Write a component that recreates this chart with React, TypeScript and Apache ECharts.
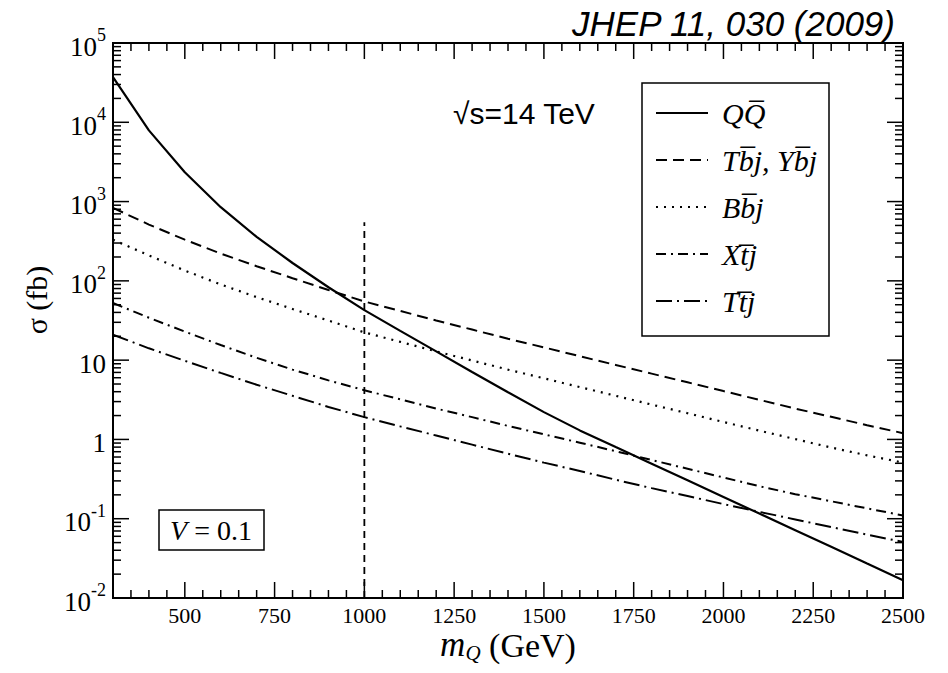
import React, { useEffect, useRef } from 'react';
import * as echarts from 'echarts';

// Heavy-quark mass points (GeV)
const masses = [300, 400, 500, 600, 700, 800, 900, 1000, 1100, 1200, 1300, 1400, 1500, 1600, 1700, 1800, 1900, 2000, 2100, 2200, 2300, 2400, 2500];

// Cross sections (fb)
const sigmaQQ = [37000, 7900, 2340, 850, 359, 168, 83, 42.7, 23.4, 12.9, 7.1, 3.94, 2.21, 1.3, 0.8, 0.495, 0.305, 0.188, 0.116, 0.0716, 0.0442, 0.0272, 0.0168];
const sigmaTbj = [832, 513, 331, 221, 153, 108, 76.7, 55, 41.7, 31.6, 24.3, 18.6, 14.5, 11.2, 8.7, 6.76, 5.25, 4.07, 3.16, 2.45, 1.93, 1.51, 1.2];
const sigmaBbj = [331, 209, 135, 90, 62.4, 44.2, 31.6, 22.4, 17.0, 12.9, 9.9, 7.6, 5.9, 4.57, 3.55, 2.75, 2.14, 1.66, 1.29, 1.01, 0.79, 0.63, 0.51];
const sigmaXtj = [52.5, 34.3, 22.9, 15.5, 10.7, 7.6, 5.56, 4.17, 3.2, 2.45, 1.91, 1.48, 1.16, 0.91, 0.71, 0.55, 0.427, 0.331, 0.257, 0.204, 0.166, 0.135, 0.11];
const sigmaTtj = [20.9, 14.1, 9.8, 6.9, 4.9, 3.55, 2.57, 1.91, 1.46, 1.12, 0.86, 0.66, 0.51, 0.4, 0.31, 0.243, 0.193, 0.153, 0.122, 0.098, 0.0785, 0.063, 0.051];

// Vertical marker at m = 1000 GeV
const cutMass = [1000, 1000];
const cutSigma = [0.01, 550];

const seriesNames = ['QQ\u0305', 'Tb\u0305j, Yb\u0305j', 'Bb\u0305j', 'Xt\u0305j', 'Tt\u0305j'];

// Axis ranges and tick values
const xMin = 300;
const xMax = 2500;
const yMin = 0.01;
const yMax = 100000;
const xMajorTicks = [500, 750, 1000, 1250, 1500, 1750, 2000, 2250, 2500];
const yMajorTicks = [0.01, 0.1, 1, 10, 100, 1000, 10000, 100000];
const yTickLabels = ['10|-2', '10|-1', '1|', '10|', '10|2', '10|3', '10|4', '10|5'];

const xMinorTicks: number[] = [];
for (let m = 350; m < 2500; m += 50) if (m % 250 !== 0) xMinorTicks.push(m);
const yMinorTicks: number[] = [];
for (let e = -2; e <= 4; e++) for (let k = 2; k <= 9; k++) yMinorTicks.push(+(k * Math.pow(10, e)).toPrecision(3));

const SERIF = 'Liberation Serif';
const SANS = 'Liberation Sans';

function pairs(xs: number[], ys: number[]) {
  return xs.map((x, i) => [x, ys[i]]);
}

export default function App() {
  const ref = useRef<HTMLDivElement>(null);
  useEffect(() => {
    if (!ref.current) return;
    const chart = echarts.init(ref.current, null, { renderer: 'svg' });
    const mk = (name: string, data: number[], type: any, width = 2) => ({
      name,
      type: 'line',
      data: pairs(masses, data),
      showSymbol: false,
      symbol: 'none',
      smooth: false,
      lineStyle: { color: '#000', width, type },
      itemStyle: { color: '#000' },
      z: 3,
    });
    chart.setOption({
      animation: false,
      backgroundColor: '#fff',
      grid: { left: 113, right: 45, top: 43, bottom: 75, containLabel: false },
      xAxis: {
        type: 'value', min: xMin, max: xMax, splitLine: { show: false },
        axisLine: { show: false, onZero: false },
        axisTick: { show: false },
        axisLabel: { customValues: xMajorTicks, formatter: (v: number) => String(v), fontSize: 22, fontFamily: SERIF, color: '#000', margin: 6 },
      },
      yAxis: {
        type: 'log', logBase: 10, min: yMin, max: yMax, splitLine: { show: false },
        axisLine: { show: false, onZero: false },
        axisTick: { show: false },
        axisLabel: { show: false },
      },
      legend: {
        data: seriesNames,
        orient: 'vertical',
        left: 655,
        top: 98,
        padding: 0,
        itemWidth: 52,
        itemHeight: 14,
        itemGap: 17,
        selectedMode: false,
        itemStyle: { color: 'rgba(0,0,0,0)', borderWidth: 0, opacity: 0 },
        textStyle: { fontFamily: SERIF, fontStyle: 'italic', fontSize: 30, color: '#000', padding: [0, 0, 0, 9] },
      },
      series: [
        mk(seriesNames[0], sigmaQQ, 'solid', 2.2),
        mk(seriesNames[1], sigmaTbj, [11, 6]),
        mk(seriesNames[2], sigmaBbj, [2, 6], 2.2),
        mk(seriesNames[3], sigmaXtj, [10, 5, 2, 5]),
        mk(seriesNames[4], sigmaTtj, [16, 5, 2, 5]),
        {
          name: 'cut',
          type: 'line',
          data: pairs(cutMass, cutSigma),
          symbol: 'none',
          lineStyle: { color: '#000', width: 1.8, type: [7, 5] },
          z: 2,
        },
      ],
    });

    // Frame, ticks and y labels placed through the chart's own coordinate system
    const toPx = (x: number, y: number) => chart.convertToPixel({ xAxisIndex: 0, yAxisIndex: 0 }, [x, y]) as number[];
    const g: any[] = [];
    const tl = toPx(xMin, yMax);
    const br = toPx(xMax, yMin);
    g.push({ type: 'rect', shape: { x: tl[0], y: tl[1], width: br[0] - tl[0], height: br[1] - tl[1] }, style: { fill: 'none', stroke: '#000', lineWidth: 2 } });
    const seg = (x1: number, y1: number, x2: number, y2: number) => ({
      type: 'line',
      shape: { x1, y1, x2, y2 },
      style: { stroke: '#000', lineWidth: 1.5 },
    });
    const addX = (v: number, len: number) => {
      const b = toPx(v, yMin);
      const t = toPx(v, yMax);
      g.push(seg(b[0], b[1], b[0], b[1] - len));
      g.push(seg(t[0], t[1], t[0], t[1] + len));
    };
    const addY = (v: number, len: number) => {
      const l = toPx(xMin, v);
      const r = toPx(xMax, v);
      g.push(seg(l[0], l[1], l[0] + len, l[1]));
      g.push(seg(r[0], r[1], r[0] - len, r[1]));
    };
    xMajorTicks.forEach((v) => addX(v, 16));
    xMinorTicks.forEach((v) => addX(v, 8));
    yMajorTicks.forEach((v) => addY(v, 16));
    yMinorTicks.forEach((v) => addY(v, 8));
    yMajorTicks.forEach((v, i) => {
      const p = toPx(xMin, v);
      const [base, exp] = yTickLabels[i].split('|');
      g.push({
        type: 'text', x: p[0] - 7, y: p[1],
        style: {
          text: exp ? `{b|${base}}{s|${exp}}` : `{b|${base}}`,
          align: 'right', verticalAlign: 'middle', fill: '#000', fontFamily: SERIF, fontSize: 27,
          rich: {
            b: { fontSize: 27, fontFamily: SERIF, fill: '#000', lineHeight: 34, verticalAlign: 'bottom' },
            s: { fontSize: 18, fontFamily: SERIF, fill: '#000', lineHeight: 13, verticalAlign: 'top' },
          },
        },
      });
    });

    const statics: any[] = [
      { type: 'rect', shape: { x: 642, y: 83, width: 187, height: 253 }, style: { fill: 'none', stroke: '#000', lineWidth: 1.5 } },
      { type: 'rect', shape: { x: 159, y: 510, width: 105, height: 40 }, style: { fill: 'none', stroke: '#000', lineWidth: 1.5 } },
      {
        type: 'text', x: 211, y: 530,
        style: {
          text: '{i|V} = 0.1', align: 'center', verticalAlign: 'middle', fontSize: 28, fontFamily: SERIF, fill: '#000',
          rich: { i: { fontStyle: 'italic', fontSize: 28, fontFamily: SERIF } },
        },
      },
      {
        type: 'text', x: 453, y: 113,
        style: { text: '\u221As=14 TeV', align: 'left', verticalAlign: 'middle', fontSize: 30, fontFamily: SANS, fill: '#000' },
      },
      {
        type: 'text', x: 895, y: 23,
        style: { text: 'JHEP 11, 030 (2009)', align: 'right', verticalAlign: 'middle', fontSize: 35, fontStyle: 'italic', fontFamily: SANS, fill: '#000' },
      },
      {
        type: 'text', x: 36, y: 300, rotation: Math.PI / 2,
        style: { text: '\u03C3 (fb)', align: 'center', verticalAlign: 'middle', fontSize: 30, fontFamily: SERIF, fill: '#000' },
      },
      {
        type: 'text', x: 508, y: 645,
        style: {
          text: '{i|m}{q|Q} (GeV)', align: 'center', verticalAlign: 'middle', fontSize: 34, fontFamily: SERIF, fill: '#000',
          rich: {
            i: { fontStyle: 'italic', fontSize: 35, fontFamily: SERIF, lineHeight: 36, verticalAlign: 'top' },
            q: { fontStyle: 'italic', fontSize: 21, fontFamily: SERIF, lineHeight: 17, verticalAlign: 'bottom' },
          },
        },
      },
    ];
    chart.setOption({ graphic: [...g, ...statics] });
    return () => chart.dispose();
  }, []);
  return <div ref={ref} style={{ position: 'fixed', left: 0, top: 0, width: 948, height: 673 }} />;
}
